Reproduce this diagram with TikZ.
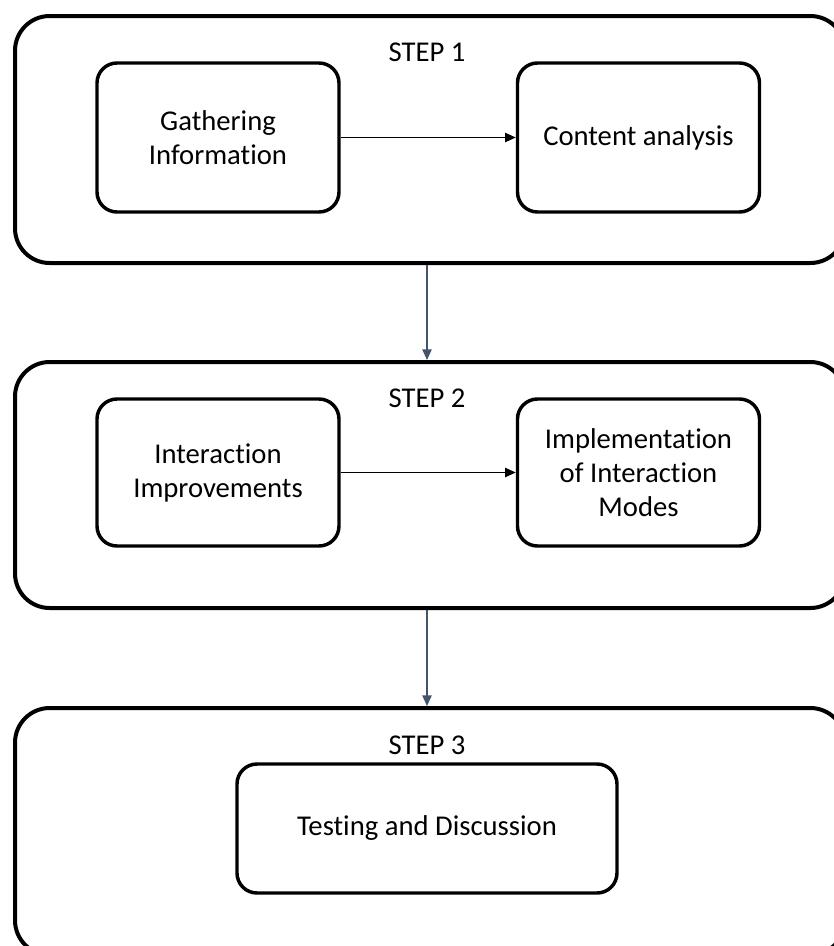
\documentclass[tikz,border=0pt]{standalone}
\usepackage{fontspec}
\setmainfont[Ligatures=NoCommon]{Carlito}
\usetikzlibrary{arrows.meta}
\begin{document}
\begin{tikzpicture}[x=0.75pt,y=-0.75pt,
  stage/.style={draw=black,line width=3pt,rounded corners=26pt,anchor=north west,inner sep=0pt},
  task/.style={draw=black,line width=2.6pt,rounded corners=15pt,align=center,inner sep=0pt,
    font=\fontsize{21.5}{25.5}\selectfont},
  steplabel/.style={font=\fontsize{21.5}{25.5}\selectfont,inner sep=0pt},
  flow/.style={-{Triangle[length=8pt,width=7pt]},line width=0.9pt,black},
  down/.style={-{Triangle[length=8pt,width=7pt]},line width=1.1pt,color={rgb,255:red,68;green,84;blue,106}}]
\useasboundingbox (0,0) rectangle (834,946);
\clip (0,0) rectangle (834,946);
% stages
\node[stage,minimum width=622.5pt,minimum height=185.25pt] (s1) at (13,14) {};
\node[stage,minimum width=622.5pt,minimum height=184.5pt] (s2) at (13,360) {};
\node[stage,minimum width=622.5pt,minimum height=185.25pt] (s3) at (13,706) {};
% stage titles
\node[steplabel] (t1) at (427,52) {STEP 1};
\node[steplabel] (t2) at (427,398) {STEP 2};
\node[steplabel] (t3) at (427,745) {STEP 3};
% tasks
\node[task,minimum width=181.5pt,minimum height=111.75pt] (a) at (218,137.5) {Gathering\\Information};
\node[task,minimum width=181.5pt,minimum height=111.75pt] (b) at (638.5,137.5) {Content analysis};
\node[task,minimum width=181.5pt,minimum height=110.25pt] (c) at (218,472.5) {Interaction\\Improvements};
\node[task,minimum width=181.5pt,minimum height=110.25pt] (d) at (638.5,472.5) {Implementation\\of Interaction\\Modes};
\node[task,minimum width=285pt,minimum height=96.75pt] (e) at (427,828.5) {Testing and Discussion};
% connectors
\draw[flow] (a.east) -- (b.west);
\draw[flow] (c.east) -- (d.west);
\draw[down] (s1.south -| t1) -- (s2.north -| t1);
\draw[down] (s2.south -| t2) -- (s3.north -| t2);
\end{tikzpicture}
\end{document}
